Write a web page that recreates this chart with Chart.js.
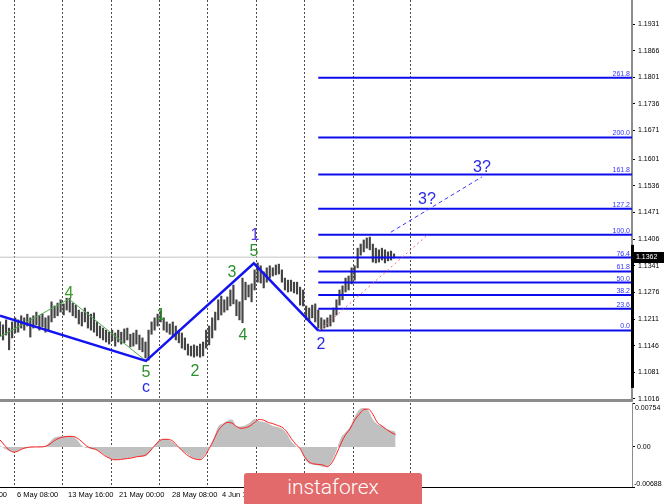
<!DOCTYPE html>
<html>
<head>
<meta charset="utf-8">
<script src="https://cdn.jsdelivr.net/npm/chart.js@4.4.1/dist/chart.umd.min.js"></script>
<style>
  body { margin: 0; width: 665px; height: 504px; background: #fff; position: relative; overflow: hidden; }
  canvas { position: absolute; left: 0; }
  #priceChart { top: 0; }
  #macdChart { top: 395px; }
  .sep { position: absolute; left: 0; top: 399px; width: 633px; height: 3px; background: #8c8c8c; }
  .logo { position: absolute; left: 244px; top: 473px; width: 178px; height: 40px; background: #e26a6a; border-radius: 3px;
          color: #fff; font: 300 21px Roboto, "Open Sans", sans-serif; text-align: center; line-height: 28px; }
</style>
</head>
<body>
<canvas id="priceChart" width="665" height="410"></canvas>
<canvas id="macdChart" width="665" height="109"></canvas>
<div class="sep"></div>
<div class="logo">instaforex</div>
<script>
// price axis
const priceMin = 1.10135;
const priceMax = 1.19896;
const priceTicks = [1.1016, 1.1081, 1.1146, 1.1211, 1.1276, 1.1341, 1.1406, 1.1471, 1.1536, 1.1601, 1.1671, 1.1736, 1.1801, 1.1866, 1.1931];
const lastPrice = 1.1362;
const scaleMark = [1.1043, 1.1392];

// time axis, counted in H4 bars
const barsMax = 417;
const gridBars = [9.2, 40.9, 73.2, 104.9, 136.5, 168.9, 200.5, 232.8, 270.4];
const dateBars = [-23.7, 11.2, 44.9, 78.5, 113.5, 146.4, 180, 213.5, 247];
const dateLabels = ['29 Apr 00:00', '6 May 08:00', '13 May 16:00', '21 May 00:00', '28 May 08:00', '4 Jun 16:00', '12 Jun 00:00', '19 Jun 08:00', '26 Jun 16:00'];

// H4 bars (every second bar), high and low
const barHigh = [1.1204,1.1197,1.1209,1.1189,1.1204,1.1214,1.1209,1.1219,1.1214,1.1223,
  1.1214,1.1219,1.1228,1.1219,1.1223,1.1214,1.1219,1.1253,1.1243,1.1250,
  1.1258,1.1248,1.1262,1.1262,1.1250,1.1245,1.1233,1.1228,1.1238,1.1228,
  1.1223,1.1226,1.1204,1.1194,1.1189,1.1184,1.1179,1.1184,1.1177,1.1184,
  1.1179,1.1187,1.1189,1.1174,1.1177,1.1184,1.1172,1.1165,1.1155,1.1184,
  1.1204,1.1214,1.1223,1.1231,1.1214,1.1204,1.1199,1.1204,1.1194,1.1184,
  1.1177,1.1165,1.1150,1.1145,1.1148,1.1145,1.1150,1.1155,1.1184,1.1194,
  1.1214,1.1228,1.1258,1.1267,1.1258,1.1265,1.1282,1.1294,1.1258,1.1253,
  1.1311,1.1301,1.1294,1.1297,1.1331,1.1348,1.1341,1.1326,1.1336,1.1341,
  1.1336,1.1343,1.1345,1.1331,1.1311,1.1306,1.1306,1.1301,1.1301,1.1289,
  1.1282,1.1243,1.1238,1.1245,1.1248,1.1233,1.1214,1.1209,1.1214,1.1221,
  1.1238,1.1258,1.1282,1.1292,1.1311,1.1316,1.1336,1.1341,1.1384,1.1394,
  1.1404,1.1409,1.1411,1.1394,1.1384,1.1380,1.1384,1.1380,1.1375,1.1377,
  1.1370];
const barLow = [1.1170,1.1160,1.1172,1.1136,1.1165,1.1177,1.1179,1.1189,1.1184,1.1194,
  1.1167,1.1189,1.1197,1.1184,1.1192,1.1179,1.1184,1.1204,1.1214,1.1219,
  1.1228,1.1221,1.1233,1.1228,1.1219,1.1214,1.1199,1.1194,1.1204,1.1189,
  1.1184,1.1179,1.1170,1.1165,1.1160,1.1155,1.1150,1.1158,1.1145,1.1155,
  1.1150,1.1153,1.1160,1.1143,1.1145,1.1150,1.1136,1.1131,1.1116,1.1111,
  1.1174,1.1184,1.1194,1.1204,1.1184,1.1179,1.1174,1.1170,1.1160,1.1153,
  1.1140,1.1136,1.1123,1.1121,1.1118,1.1121,1.1118,1.1121,1.1140,1.1148,
  1.1165,1.1184,1.1209,1.1221,1.1228,1.1233,1.1243,1.1248,1.1219,1.1209,
  1.1202,1.1258,1.1265,1.1253,1.1282,1.1301,1.1299,1.1287,1.1301,1.1311,
  1.1316,1.1319,1.1321,1.1301,1.1282,1.1277,1.1279,1.1275,1.1272,1.1245,
  1.1243,1.1209,1.1204,1.1214,1.1204,1.1189,1.1184,1.1189,1.1192,1.1194,
  1.1204,1.1221,1.1245,1.1258,1.1277,1.1282,1.1297,1.1306,1.1336,1.1367,
  1.1375,1.1384,1.1380,1.1350,1.1348,1.1350,1.1355,1.1348,1.1353,1.1355,
  1.1360];

// wave count lines
const waveBars = [0, 96.3, 167.5, 210];
const wavePrices = [1.1219, 1.1109, 1.1347, 1.1183];
const subWaveBars = [0, 45.5, 96.3];
const subWavePrices = [1.1168, 1.1260, 1.1109];
const targetBars = [257.9, 318];
const targetPrices = [1.1423, 1.1558];
const channelBars = [211, 282.3];
const channelPrices = [1.1184, 1.1417];

// wave labels
const labelText = ['4', '5', 'c', '1', '2', '3', '4', '5', '1', '2', '3?', '3?'];
const labelBars = [45.5, 96.3, 96.3, 106.2, 128.6, 153, 160.3, 167.5, 168.2, 211.7, 281.7, 318];
const labelPrices = [1.1272, 1.1080, 1.1043, 1.1220, 1.1082, 1.1325, 1.1170, 1.1376, 1.1415, 1.1149, 1.1502, 1.1580];
const labelColors = ['#3a9a2a', '#2e902e', '#2a2ae6', '#2e902e', '#2e902e', '#2e902e', '#2e902e', '#2e902e', '#5b40dc', '#2a2ae6', '#2a2ae6', '#2a2ae6'];

// fibonacci levels
const fibNames = ['0.0', '23.6', '38.2', '50.0', '61.8', '76.4', '100.0', '127.2', '161.8', '200.0', '261.8'];
const fibPrices = [1.1183, 1.1236, 1.1270, 1.1300, 1.1327, 1.1361, 1.1417, 1.1480, 1.1564, 1.1654, 1.1800];
const fibStartBar = 210;

// macd window (every third bar)
const macdMin = -0.00688;
const macdMax = 0.00754;
const macdHist = [0.0002,-0.0003,-0.0007,-0.0009,-0.0006,-0.0004,-0.0002,-0.0001,0.0000,0.0001,
  0.0002,0.0009,0.0016,0.0018,0.0019,0.0019,0.0018,0.0012,0.0002,-0.0002,
  -0.0003,-0.0005,-0.0008,-0.0014,-0.0019,-0.0022,-0.0022,-0.0021,-0.0020,-0.0018,
  -0.0017,-0.0017,-0.0016,-0.0009,0.0003,0.0012,0.0014,0.0013,0.0008,0.0001,
  -0.0006,-0.0011,-0.0017,-0.0021,-0.0021,-0.0014,-0.0002,0.0015,0.0035,0.0040,
  0.0045,0.0047,0.0036,0.0035,0.0037,0.0042,0.0048,0.0044,0.0043,0.0040,
  0.0036,0.0034,0.0031,0.0024,0.0010,0.0002,-0.0003,-0.0020,-0.0029,-0.0031,
  -0.0032,-0.0034,-0.0034,-0.0024,-0.0006,0.0016,0.0025,0.0035,0.0052,0.0064,
  0.0067,0.0063,0.0047,0.0039,0.0036,0.0031,0.0028,0.0026];
const macdSignal = [0.0012,0.0003,-0.0005,-0.0009,-0.0007,-0.0003,-0.0001,0.0000,0.0000,0.0000,
  0.0001,0.0005,0.0011,0.0015,0.0017,0.0018,0.0018,0.0015,0.0009,0.0002,
  -0.0002,-0.0004,-0.0009,-0.0015,-0.0019,-0.0022,-0.0022,-0.0021,-0.0020,-0.0019,
  -0.0017,-0.0016,-0.0014,-0.0007,0.0002,0.0010,0.0013,0.0013,0.0010,0.0002,
  -0.0006,-0.0013,-0.0018,-0.0021,-0.0022,-0.0016,-0.0003,0.0012,0.0028,0.0037,
  0.0042,0.0041,0.0035,0.0032,0.0033,0.0036,0.0042,0.0047,0.0046,0.0042,
  0.0040,0.0037,0.0034,0.0027,0.0015,0.0005,-0.0003,-0.0017,-0.0026,-0.0029,
  -0.0030,-0.0031,-0.0034,-0.0027,-0.0012,0.0006,0.0021,0.0031,0.0046,0.0056,
  0.0064,0.0065,0.0056,0.0042,0.0036,0.0030,0.0025,0.0021];

Chart.defaults.font.family = '"Liberation Sans", Arial, sans-serif';
Chart.defaults.font.size = 7;
Chart.defaults.color = '#000';

const axisFont = '7px "Liberation Sans", Arial, sans-serif';

function toPoints(xs, ys) {
  return xs.map((x, i) => ({ x: x, y: ys[i] }));
}

function lineSet(points, color, width, dash, order) {
  return {
    type: 'line',
    data: points,
    borderColor: color,
    borderWidth: width,
    borderDash: dash || [],
    pointRadius: 0,
    tension: 0,
    fill: false,
    order: order
  };
}

// dotted time grid for both windows
const timeGrid = {
  id: 'timeGrid',
  beforeDatasetsDraw(chart) {
    let ctx = chart.ctx;
    let area = chart.chartArea;
    let xs = chart.scales.x;
    ctx.save();
    ctx.strokeStyle = '#4a4a4a';
    ctx.lineWidth = 1;
    ctx.setLineDash([2, 2]);
    gridBars.forEach(b => {
      let x = Math.round(xs.getPixelForValue(b)) + 0.5;
      ctx.beginPath();
      ctx.moveTo(x, area.top);
      ctx.lineTo(x, area.bottom);
      ctx.stroke();
    });
    ctx.restore();
  }
};

const priceMarks = {
  id: 'priceMarks',
  afterDraw(chart) {
    let ctx = chart.ctx;
    let area = chart.chartArea;
    let xs = chart.scales.x;
    let ys = chart.scales.y;
    ctx.save();

    // fibonacci captions
    ctx.font = axisFont;
    ctx.fillStyle = '#3535ff';
    ctx.textAlign = 'right';
    ctx.textBaseline = 'bottom';
    fibNames.forEach((name, i) => {
      ctx.fillText(name, area.right - 2, ys.getPixelForValue(fibPrices[i]) - 0.5);
    });

    // wave labels
    ctx.font = '16px "Liberation Sans", Arial, sans-serif';
    ctx.textAlign = 'center';
    ctx.textBaseline = 'middle';
    labelText.forEach((t, i) => {
      ctx.fillStyle = labelColors[i];
      ctx.fillText(t, xs.getPixelForValue(labelBars[i]), ys.getPixelForValue(labelPrices[i]));
    });

    // highlighted part of the price scale
    let top = ys.getPixelForValue(scaleMark[1]);
    let bottom = ys.getPixelForValue(scaleMark[0]);
    ctx.fillStyle = '#000';
    ctx.fillRect(area.right - 1, top, 3, bottom - top);

    // last price tag
    let py = ys.getPixelForValue(lastPrice);
    ctx.fillRect(area.right + 1, Math.round(py) - 5, 31, 11);
    ctx.fillStyle = '#fff';
    ctx.font = axisFont;
    ctx.textAlign = 'left';
    ctx.fillText(lastPrice.toFixed(4), area.right + 4, Math.round(py) + 0.5);
    ctx.restore();
  }
};

const priceBars = barHigh.map((h, i) => ({ x: i * 2, y: [barLow[i], h] }));

let datasets = [
  lineSet([{ x: 0, y: lastPrice }, { x: barsMax, y: lastPrice }], '#c4c4c4', 1, null, 20),
  {
    type: 'bar',
    data: priceBars,
    backgroundColor: '#444',
    barThickness: 1.5,
    order: 10
  }
];
fibPrices.forEach(p => {
  datasets.push(lineSet([{ x: fibStartBar, y: p }, { x: barsMax, y: p }], '#0c0cee', 2, null, 5));
});
datasets.push(lineSet(toPoints(channelBars, channelPrices), '#f26a6a', 1, [2, 3], 4));
datasets.push(lineSet(toPoints(targetBars, targetPrices), '#3a3aff', 1, [4, 3], 4));
datasets.push(lineSet(toPoints(subWaveBars, subWavePrices), '#4fae4f', 1, null, 3));
datasets.push(lineSet(toPoints(waveBars, wavePrices), '#1414f2', 2.5, null, 2));

new Chart(document.getElementById('priceChart'), {
  type: 'bar',
  data: { datasets: datasets },
  options: {
    responsive: false,
    animation: false,
    layout: { padding: { top: 0, bottom: 10, left: 0, right: 0 } },
    plugins: { legend: { display: false }, tooltip: { enabled: false } },
    scales: {
      x: { type: 'linear', min: 0, max: barsMax, offset: false, display: false },
      y: {
        position: 'right',
        min: priceMin,
        max: priceMax,
        beginAtZero: false,
        afterBuildTicks: s => { s.ticks = priceTicks.map(v => ({ value: v })); },
        afterFit: s => { s.width = 33; s.paddingTop = 0; s.paddingBottom = 0; },
        ticks: { autoSkip: false, padding: 3, font: { size: 7 }, color: '#000', callback: v => v.toFixed(4) },
        grid: { drawOnChartArea: false, tickLength: 3, tickColor: '#000' },
        border: { color: '#8c8c8c', width: 2 }
      }
    }
  },
  plugins: [timeGrid, priceMarks]
});

const macdMarks = {
  id: 'macdMarks',
  afterDraw(chart) {
    let ctx = chart.ctx;
    let area = chart.chartArea;
    let xs = chart.scales.x;
    let ys = chart.scales.y;
    ctx.save();

    // bottom line of the window
    ctx.strokeStyle = '#000';
    ctx.lineWidth = 1;
    ctx.beginPath();
    ctx.moveTo(0, Math.round(area.bottom) + 0.5);
    ctx.lineTo(area.right + 1, Math.round(area.bottom) + 0.5);
    ctx.stroke();

    // value labels
    ctx.font = axisFont;
    ctx.fillStyle = '#000';
    ctx.textAlign = 'left';
    ctx.textBaseline = 'top';
    ctx.fillText(macdMax.toFixed(5), area.right + 3, area.top + 2);
    ctx.textBaseline = 'middle';
    ctx.fillText('0.00', area.right + 5, ys.getPixelForValue(0));
    ctx.textBaseline = 'bottom';
    ctx.fillText(macdMin.toFixed(5), area.right + 2, area.bottom + 1);

    // date labels
    ctx.font = '7.5px "Liberation Sans", Arial, sans-serif';
    ctx.textBaseline = 'middle';
    dateLabels.forEach((d, i) => {
      ctx.fillText(d, xs.getPixelForValue(dateBars[i]), area.bottom + 7.5);
    });
    ctx.restore();
  }
};

const macdPoints = v => v.map((y, i) => ({ x: i * 3, y: y }));

new Chart(document.getElementById('macdChart'), {
  type: 'line',
  data: {
    datasets: [
      {
        data: macdPoints(macdSignal),
        borderColor: '#ff2020',
        borderWidth: 1,
        pointRadius: 0,
        cubicInterpolationMode: 'monotone',
        fill: false,
        order: 1
      },
      {
        data: macdPoints(macdHist),
        borderColor: 'rgba(0,0,0,0)',
        borderWidth: 0,
        backgroundColor: '#c0c0c0',
        pointRadius: 0,
        cubicInterpolationMode: 'monotone',
        fill: 'origin',
        order: 2
      }
    ]
  },
  options: {
    responsive: false,
    animation: false,
    layout: { padding: { top: 8, bottom: 17, left: 0, right: 0 } },
    plugins: { legend: { display: false }, tooltip: { enabled: false } },
    scales: {
      x: { type: 'linear', min: 0, max: barsMax, display: false },
      y: {
        position: 'right',
        min: macdMin,
        max: macdMax,
        afterBuildTicks: s => { s.ticks = [macdMin, 0, macdMax].map(v => ({ value: v })); },
        afterFit: s => { s.width = 33; s.paddingTop = 0; s.paddingBottom = 0; },
        ticks: { display: false },
        grid: { drawOnChartArea: false, tickLength: 3, tickColor: '#000' },
        border: { color: '#8c8c8c', width: 1 }
      }
    }
  },
  plugins: [timeGrid, macdMarks]
});
</script>
</body>
</html>
